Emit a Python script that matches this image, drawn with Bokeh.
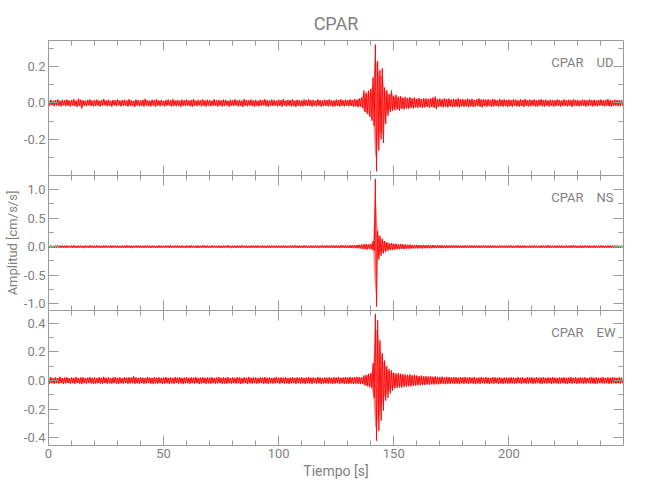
import numpy as np
from bokeh.plotting import figure
from bokeh.layouts import column
from bokeh.models import (Range1d, LinearAxis, SingleIntervalTicker, FixedTicker,
                          Title, Label, PrintfTickFormatter)
from bokeh.embed import file_html
from bokeh.resources import INLINE

# ---- data: per-second peak envelope (cm/s/s) ----
ud_up = [
 .014,.018,.012,.016,.020,.013,.017,.015,.019,.014,
 .016,.021,.013,.024,.018,.015,.012,.017,.020,.014,
 .015,.019,.013,.016,.022,.014,.018,.012,.017,.015,
 .020,.013,.016,.018,.014,.021,.015,.012,.019,.016,
 .014,.017,.023,.015,.013,.018,.016,.020,.014,.017,
 .012,.016,.019,.015,.021,.014,.017,.013,.018,.015,
 .019,.014,.016,.022,.013,.017,.015,.020,.014,.018,
 .016,.013,.021,.015,.017,.014,.019,.016,.012,.018,
 .015,.020,.014,.017,.013,.022,.016,.015,.019,.014,
 .017,.013,.018,.016,.021,.015,.014,.019,.016,.013,
 .018,.015,.022,.014,.017,.016,.020,.013,.018,.015,
 .014,.019,.016,.021,.015,.017,.013,.020,.016,.014,
 .018,.015,.020,.016,.014,.019,.017,.021,.015,.018,
 .016,.020,.017,.022,.019,.025,.030,.068,.058,.068,
 .077,.140,.320,.230,.180,.190,.085,.070,.050,.068,
 .040,.045,.035,.038,.030,.034,.028,.032,.026,.030,
 .024,.028,.022,.026,.025,.023,.027,.030,.035,.022,
 .024,.020,.026,.022,.025,.019,.023,.021,.026,.020,
 .022,.018,.024,.020,.023,.017,.021,.025,.019,.022,
 .018,.021,.017,.023,.019,.016,.022,.018,.020,.017,
 .019,.016,.021,.018,.015,.020,.017,.022,.016,.019,
 .017,.020,.015,.018,.021,.016,.019,.014,.018,.016,
 .015,.019,.017,.014,.020,.016,.018,.015,.021,.017,
 .016,.014,.019,.017,.015,.020,.016,.018,.014,.017,
 .019,.015,.017,.021,.016,.014,.018,.016,.015,.017]
ud_lo = [
 -.015,-.012,-.018,-.014,-.016,-.019,-.013,-.017,-.015,-.020,
 -.014,-.017,-.022,-.016,-.030,-.015,-.018,-.013,-.016,-.019,
 -.017,-.014,-.020,-.015,-.013,-.018,-.016,-.021,-.014,-.017,
 -.013,-.019,-.016,-.014,-.020,-.015,-.017,-.022,-.014,-.018,
 -.016,-.020,-.014,-.017,-.019,-.013,-.021,-.015,-.018,-.014,
 -.019,-.015,-.013,-.020,-.016,-.018,-.014,-.022,-.015,-.017,
 -.014,-.018,-.021,-.015,-.017,-.013,-.019,-.016,-.020,-.014,
 -.018,-.016,-.014,-.020,-.015,-.019,-.017,-.013,-.021,-.016,
 -.017,-.014,-.019,-.015,-.022,-.016,-.018,-.014,-.017,-.020,
 -.015,-.019,-.016,-.013,-.018,-.021,-.015,-.017,-.014,-.019,
 -.016,-.020,-.014,-.018,-.015,-.019,-.017,-.022,-.015,-.018,
 -.019,-.015,-.017,-.014,-.020,-.016,-.018,-.015,-.021,-.017,
 -.016,-.019,-.015,-.021,-.018,-.016,-.020,-.017,-.019,-.016,
 -.018,-.016,-.021,-.019,-.023,-.020,-.028,-.050,-.060,-.075,
 -.097,-.125,-.375,-.260,-.200,-.220,-.115,-.070,-.050,-.042,
 -.040,-.036,-.042,-.033,-.036,-.030,-.032,-.027,-.030,-.025,
 -.027,-.023,-.026,-.024,-.022,-.026,-.023,-.025,-.034,-.021,
 -.020,-.024,-.021,-.025,-.019,-.023,-.022,-.020,-.024,-.019,
 -.021,-.019,-.023,-.018,-.022,-.020,-.017,-.021,-.024,-.018,
 -.020,-.017,-.022,-.019,-.016,-.021,-.018,-.020,-.017,-.022,
 -.018,-.021,-.016,-.019,-.020,-.017,-.022,-.016,-.019,-.018,
 -.016,-.019,-.021,-.015,-.018,-.020,-.016,-.019,-.015,-.020,
 -.018,-.015,-.020,-.017,-.016,-.019,-.015,-.021,-.017,-.016,
 -.019,-.016,-.015,-.020,-.017,-.014,-.019,-.016,-.018,-.015,
 -.016,-.019,-.015,-.017,-.020,-.016,-.015,-.018,-.017,-.016]
ns_up = [
 .018,.022,.015,.020,.025,.017,.021,.019,.023,.016,
 .020,.024,.017,.019,.022,.016,.021,.018,.025,.019,
 .017,.023,.019,.016,.022,.020,.018,.024,.017,.021,
 .019,.016,.022,.020,.025,.018,.021,.017,.023,.019,
 .022,.018,.020,.024,.017,.021,.019,.016,.023,.020,
 .018,.022,.019,.025,.017,.020,.023,.018,.021,.016,
 .021,.019,.024,.017,.020,.022,.018,.025,.019,.021,
 .017,.023,.020,.018,.022,.016,.021,.019,.024,.018,
 .020,.017,.022,.019,.025,.018,.021,.016,.023,.020,
 .019,.022,.018,.024,.017,.021,.020,.023,.018,.022,
 .021,.018,.023,.019,.016,.022,.020,.025,.018,.021,
 .018,.024,.020,.017,.022,.019,.023,.021,.018,.025,
 .020,.023,.019,.026,.021,.024,.020,.027,.022,.025,
 .023,.026,.028,.025,.030,.035,.040,.045,.050,.042,
 .048,.100,1.190,.280,.190,.140,.100,.080,.060,.065,
 .055,.050,.045,.048,.042,.040,.035,.038,.032,.030,
 .034,.030,.028,.032,.027,.029,.026,.030,.025,.027,
 .024,.027,.023,.026,.022,.025,.021,.024,.023,.020,
 .022,.025,.020,.023,.021,.024,.019,.022,.020,.023,
 .021,.019,.024,.020,.022,.018,.023,.021,.019,.022,
 .020,.023,.018,.021,.024,.019,.022,.020,.017,.021,
 .019,.022,.020,.018,.023,.021,.019,.024,.020,.018,
 .021,.019,.023,.020,.017,.022,.019,.021,.024,.020,
 .018,.022,.020,.023,.019,.021,.018,.022,.020,.019,
 .022,.020,.018,.023,.021,.019,.022,.020,.018,.021]
ns_lo = [
 -.019,-.016,-.022,-.018,-.015,-.021,-.017,-.024,-.019,-.016,
 -.021,-.018,-.023,-.017,-.020,-.025,-.018,-.021,-.016,-.022,
 -.019,-.017,-.021,-.024,-.018,-.020,-.016,-.022,-.019,-.017,
 -.022,-.019,-.016,-.023,-.018,-.021,-.025,-.017,-.020,-.018,
 -.017,-.021,-.019,-.016,-.023,-.018,-.020,-.024,-.017,-.021,
 -.020,-.017,-.023,-.018,-.021,-.016,-.019,-.022,-.018,-.024,
 -.018,-.022,-.017,-.020,-.024,-.019,-.021,-.016,-.023,-.018,
 -.021,-.018,-.016,-.022,-.019,-.023,-.017,-.020,-.018,-.025,
 -.019,-.022,-.018,-.021,-.016,-.020,-.023,-.019,-.017,-.021,
 -.022,-.018,-.020,-.017,-.023,-.019,-.021,-.016,-.024,-.019,
 -.018,-.021,-.019,-.023,-.020,-.017,-.022,-.019,-.024,-.018,
 -.021,-.019,-.017,-.023,-.020,-.022,-.018,-.025,-.019,-.021,
 -.022,-.020,-.024,-.019,-.023,-.021,-.025,-.020,-.024,-.022,
 -.025,-.023,-.027,-.024,-.029,-.032,-.040,-.045,-.050,-.042,
 -.048,-.070,-1.050,-.220,-.160,-.120,-.090,-.070,-.060,-.058,
 -.050,-.046,-.044,-.040,-.042,-.038,-.034,-.036,-.031,-.030,
 -.032,-.029,-.030,-.027,-.028,-.026,-.029,-.025,-.027,-.024,
 -.023,-.026,-.022,-.025,-.021,-.024,-.022,-.020,-.023,-.021,
 -.024,-.020,-.022,-.019,-.023,-.021,-.018,-.022,-.020,-.019,
 -.020,-.023,-.018,-.021,-.019,-.022,-.020,-.018,-.023,-.019,
 -.021,-.019,-.022,-.018,-.020,-.023,-.019,-.021,-.018,-.022,
 -.020,-.018,-.022,-.019,-.021,-.017,-.023,-.019,-.021,-.020,
 -.019,-.022,-.018,-.021,-.020,-.018,-.023,-.019,-.020,-.022,
 -.021,-.019,-.022,-.018,-.020,-.023,-.019,-.021,-.018,-.020,
 -.019,-.022,-.020,-.018,-.021,-.020,-.019,-.022,-.020,-.018]
ew_up = [
 .020,.024,.017,.022,.019,.026,.018,.021,.023,.017,
 .022,.019,.025,.018,.021,.023,.017,.020,.024,.019,
 .021,.018,.023,.020,.026,.019,.022,.017,.021,.024,
 .019,.022,.018,.024,.020,.023,.021,.030,.022,.019,
 .023,.020,.018,.025,.021,.019,.024,.020,.022,.018,
 .021,.025,.019,.022,.018,.024,.020,.023,.019,.021,
 .024,.019,.022,.020,.025,.018,.021,.023,.019,.022,
 .020,.023,.018,.021,.025,.019,.022,.020,.024,.018,
 .022,.019,.024,.021,.018,.023,.020,.025,.019,.022,
 .021,.018,.023,.020,.024,.019,.022,.018,.021,.025,
 .019,.022,.020,.024,.018,.021,.023,.019,.022,.020,
 .023,.019,.021,.025,.020,.022,.018,.024,.021,.019,
 .022,.020,.024,.019,.023,.021,.025,.020,.022,.024,
 .022,.025,.021,.024,.026,.023,.022,.035,.040,.047,
 .050,.120,.465,.420,.280,.190,.140,.100,.080,.070,
 .055,.050,.052,.048,.045,.042,.040,.044,.038,.040,
 .035,.032,.034,.030,.031,.028,.030,.027,.029,.026,
 .025,.027,.023,.026,.024,.022,.025,.023,.021,.024,
 .022,.025,.020,.023,.021,.024,.019,.022,.025,.020,
 .023,.021,.019,.024,.022,.020,.023,.018,.022,.021,
 .020,.023,.021,.019,.024,.020,.022,.018,.023,.021,
 .022,.019,.024,.020,.021,.023,.019,.022,.020,.024,
 .021,.018,.022,.020,.023,.019,.021,.024,.020,.022,
 .019,.022,.020,.023,.018,.021,.024,.020,.022,.019,
 .021,.023,.019,.022,.020,.024,.021,.019,.022,.020]
ew_lo = [
 -.021,-.018,-.023,-.019,-.022,-.017,-.024,-.020,-.018,-.022,
 -.019,-.023,-.018,-.021,-.025,-.019,-.022,-.018,-.020,-.023,
 -.022,-.019,-.021,-.024,-.018,-.022,-.020,-.023,-.019,-.021,
 -.024,-.020,-.022,-.018,-.023,-.021,-.019,-.024,-.020,-.022,
 -.019,-.023,-.021,-.018,-.022,-.025,-.020,-.022,-.019,-.023,
 -.022,-.019,-.024,-.020,-.023,-.018,-.021,-.019,-.025,-.020,
 -.020,-.023,-.019,-.022,-.018,-.024,-.021,-.019,-.023,-.020,
 -.023,-.019,-.022,-.020,-.018,-.024,-.021,-.023,-.019,-.022,
 -.019,-.022,-.020,-.024,-.021,-.018,-.023,-.020,-.022,-.019,
 -.022,-.020,-.018,-.023,-.021,-.024,-.019,-.022,-.020,-.018,
 -.023,-.019,-.022,-.020,-.024,-.021,-.018,-.023,-.020,-.022,
 -.020,-.024,-.019,-.021,-.023,-.018,-.022,-.020,-.025,-.021,
 -.021,-.023,-.020,-.024,-.022,-.019,-.023,-.021,-.024,-.022,
 -.024,-.021,-.025,-.022,-.023,-.026,-.022,-.035,-.040,-.047,
 -.050,-.120,-.420,-.350,-.280,-.210,-.140,-.120,-.090,-.070,
 -.055,-.052,-.048,-.050,-.045,-.043,-.040,-.042,-.038,-.036,
 -.034,-.033,-.030,-.032,-.029,-.030,-.027,-.028,-.026,-.027,
 -.024,-.022,-.026,-.023,-.025,-.021,-.024,-.022,-.025,-.020,
 -.023,-.021,-.024,-.020,-.022,-.025,-.021,-.023,-.019,-.022,
 -.021,-.024,-.020,-.022,-.019,-.023,-.021,-.024,-.020,-.022,
 -.022,-.020,-.023,-.021,-.019,-.024,-.020,-.022,-.021,-.019,
 -.023,-.021,-.019,-.022,-.024,-.020,-.022,-.019,-.023,-.021,
 -.020,-.023,-.021,-.019,-.022,-.024,-.020,-.022,-.019,-.023,
 -.022,-.020,-.023,-.021,-.019,-.022,-.020,-.024,-.021,-.019,
 -.020,-.022,-.019,-.023,-.021,-.020,-.022,-.019,-.021,-.020]

station = "CPAR"
components = ["UD", "NS", "EW"]
y_limits = [(-0.398, 0.343), (-1.12, 1.25), (-0.454, 0.489)]
y_tick_step = [0.2, 0.5, 0.2]
x_limits = (0, 249.8)
x_tick_step = 50

FONT = "Roboto"
TXT = "#7f7f7f"
AX = "#9a9a9a"
RED = "#ff0000"


def base_axis(ax, line=True):
    ax.axis_line_color = AX if line else None
    ax.major_tick_line_color = AX
    ax.minor_tick_line_color = AX
    ax.major_tick_in = 10
    ax.major_tick_out = 0
    ax.minor_tick_in = 5
    ax.minor_tick_out = 0


def labelled_axis(ticker, fmt):
    ax = LinearAxis(ticker=ticker, formatter=PrintfTickFormatter(format=fmt))
    base_axis(ax)
    ax.major_label_text_font = FONT
    ax.major_label_text_color = TXT
    ax.major_label_text_font_size = "13px"
    ax.major_label_standoff = 3
    return ax


def bare_axes(lo, hi, step, nminor, line=True):
    """Two label-free axes: long ticks at majors, short ticks at minors."""
    first = np.ceil(lo / step) * step
    majors = [float(v) for v in np.arange(first, hi + 1e-9, step)]
    sub = step / nminor
    firstm = np.ceil(lo / sub) * sub
    minors = [float(v) for v in np.arange(firstm, hi + 1e-9, sub)]
    a_major = LinearAxis(ticker=FixedTicker(ticks=[], minor_ticks=majors))
    a_minor = LinearAxis(ticker=FixedTicker(ticks=[], minor_ticks=minors))
    base_axis(a_major, line)
    base_axis(a_minor, False)
    a_major.minor_tick_in = 10
    a_minor.minor_tick_in = 5
    for ax in (a_major, a_minor):
        ax.major_label_standoff = 0
    return a_major, a_minor


def make_panel(i, up, lo, top, bottom, xlabels):
    ymin, ymax = y_limits[i]
    p = figure(frame_width=575, frame_height=135,
               x_range=Range1d(*x_limits), y_range=Range1d(ymin, ymax),
               x_axis_location=None, y_axis_location=None,
               output_backend="svg", toolbar_location=None,
               min_border_left=48, min_border_right=11,
               min_border_top=top, min_border_bottom=bottom)
    p.grid.visible = False
    p.outline_line_color = None
    p.background_fill_color = "white"
    p.border_fill_color = "white"

    yt = SingleIntervalTicker(interval=y_tick_step[i], num_minor_ticks=2)
    p.add_layout(labelled_axis(yt, "%.1f"), "left")
    for ax in bare_axes(ymin, ymax, y_tick_step[i], 2):
        p.add_layout(ax, "right")
    for ax in bare_axes(x_limits[0], x_limits[1], x_tick_step, 5, line=True):
        p.add_layout(ax, "above")
    if xlabels:
        xt = SingleIntervalTicker(interval=x_tick_step, num_minor_ticks=5)
        below = labelled_axis(xt, "%d")
        below.axis_label = "Tiempo [s]"
        below.axis_label_text_font = FONT
        below.axis_label_text_font_size = "14px"
        below.axis_label_text_font_style = "normal"
        below.axis_label_text_color = TXT
        below.axis_label_standoff = 2
        p.add_layout(below, "below")
    else:
        for ax in bare_axes(x_limits[0], x_limits[1], x_tick_step, 5, line=False):
            p.add_layout(ax, "below")

    n = min(len(up), len(lo))
    t = np.arange(n, dtype=float)
    p.varea(x=t, y1=np.array(lo[:n]) * 0.8, y2=np.array(up[:n]) * 0.8,
            fill_color=RED, fill_alpha=0.45)
    xs = np.empty(2 * n)
    ys = np.empty(2 * n)
    xs[0::2] = t
    xs[1::2] = t + 0.5
    ys[0::2] = up[:n]
    ys[1::2] = lo[:n]
    p.line(xs, ys, line_color=RED, line_width=0.9)

    p.add_layout(Label(x=535, y=113, x_units="screen", y_units="screen",
                       text=station, text_align="right", text_baseline="middle",
                       text_font=FONT, text_font_size="13px", text_color=TXT))
    p.add_layout(Label(x=548, y=113, x_units="screen", y_units="screen",
                       text=components[i], text_align="left", text_baseline="middle",
                       text_font=FONT, text_font_size="13px", text_color=TXT))
    return p


p1 = make_panel(0, ud_up, ud_lo, 40, 0, False)
p2 = make_panel(1, ns_up, ns_lo, 0, 0, False)
p3 = make_panel(2, ew_up, ew_lo, 0, 47, True)

p1.add_layout(Title(text=station, align="center", text_font=FONT,
                    text_font_size="18px", text_font_style="normal",
                    text_color=TXT, standoff=13), "above")
p2.add_layout(Title(text="Amplitud [cm/s/s]", align="center", text_font=FONT,
                    text_font_size="13px", text_font_style="normal",
                    text_color=TXT, standoff=2), "left")

layout = column(p1, p2, p3, spacing=0)
open("out.html", "w").write(file_html(layout, INLINE))
